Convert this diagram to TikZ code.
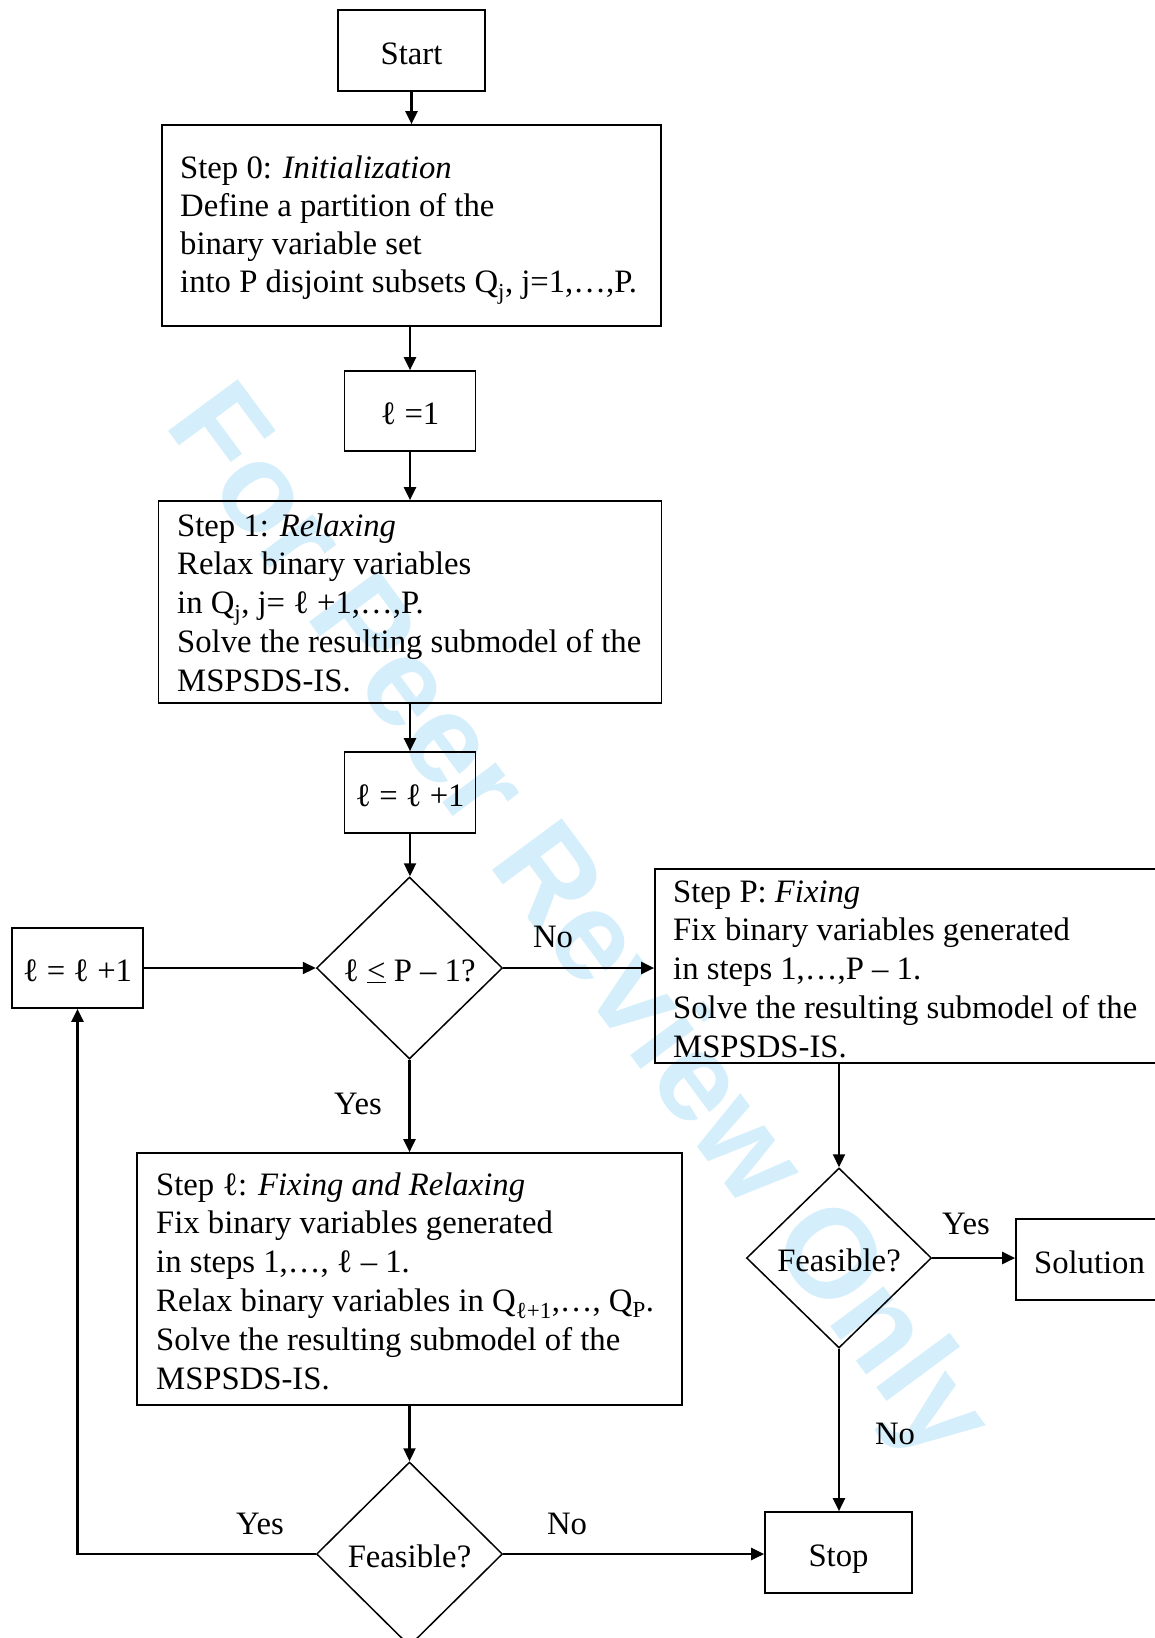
\documentclass[tikz,border=0pt]{standalone}
\usepackage{fontspec}
\setmainfont{Liberation Serif}
\newfontfamily\wmfont{Liberation Sans}
\usetikzlibrary{arrows.meta,shapes.geometric,calc}
\definecolor{wmblue}{RGB}{212,239,251}
\begin{document}
\begin{tikzpicture}[x=1pt,y=-1pt,
  box/.style={draw, line width=1.7pt, rectangle, inner sep=0pt, text height=27pt, text depth=0pt, font=\fontsize{32.7}{38.8}\selectfont},
  dia/.style={draw, line width=1.5pt, diamond, inner sep=0pt, text height=26pt, text depth=0pt, font=\fontsize{32.7}{38.8}\selectfont},
  conn/.style={line width=2.2pt, -{Triangle[length=13pt,width=12pt]}},
  btxt/.style={inner sep=0pt, anchor=base west, font=\fontsize{32.7}{38.8}\selectfont},
  lbl/.style={inner sep=0pt, font=\fontsize{32.7}{38.8}\selectfont},
  wmark/.style={inner sep=0pt, anchor=base west, rotate=-53.5, text=wmblue, font=\wmfont\bfseries\fontsize{126}{126}\selectfont}
]
\clip (0,0) rectangle (1155,1638);
\fill[white] (0,0) rectangle (1155,1638);
% watermark
\node[wmark] (wm) at (163,424) {For Peer Review Only};

% boxes
\node[box, minimum width=147pt, minimum height=81pt] (start) at (411.5,50.5) {Start};
\node[box, minimum width=499pt, minimum height=201pt] (s0) at (411.5,225.5) {};
\node[box, minimum width=131pt, minimum height=80pt] (l1) at (410,411) {ℓ =1};
\node[box, minimum width=503pt, minimum height=202pt] (s1) at (410,602) {};
\node[box, minimum width=131pt, minimum height=81pt] (l2) at (410,792.5) {ℓ = ℓ +1};
\node[dia, minimum width=186pt, minimum height=182pt] (d1) at (409.5,968) {ℓ \underline{<} P – 1?};
\node[box, minimum width=131pt, minimum height=80pt] (l3) at (77.5,968) {ℓ = ℓ +1};
\node[box, minimum width=515pt, minimum height=194pt] (sp) at (912.5,966) {};
\node[box, minimum width=545pt, minimum height=252pt] (sl) at (409.5,1279) {};
\node[dia, minimum width=185pt, minimum height=180pt] (d2) at (839,1258) {Feasible?};
\node[box, minimum width=147pt, minimum height=81pt] (sol) at (1089.5,1259.5) {Solution};
\node[dia, minimum width=186pt, minimum height=184pt] (d3) at (409.5,1554) {Feasible?};
\node[box, minimum width=147pt, minimum height=81pt] (stop) at (838.5,1552.5) {Stop};

% box texts
\node[btxt] (s0t) at (180,178) {\parbox[t]{475pt}{\fontsize{32.7}{38.3}\selectfont\raggedright Step 0: \textit{Initialization}\\
Define a partition of the\\
binary variable set\\
into P disjoint subsets Q\textsubscript{j}, j=1,…,P.}};
\node[btxt] (s1t) at (177,536) {\parbox[t]{478pt}{\raggedright Step 1: \textit{Relaxing}\\
Relax binary variables\\
in Q\textsubscript{j}, j= ℓ +1,…,P.\\
Solve the resulting submodel of the\\
MSPSDS-IS.}};
\node[btxt] (spt) at (673,902) {\parbox[t]{475pt}{\raggedright Step P: \textit{Fixing}\\
Fix binary variables generated\\
in steps 1,…,P – 1.\\
Solve the resulting submodel of the\\
MSPSDS-IS.}};
\node[btxt] (slt) at (156,1195) {\parbox[t]{518pt}{\raggedright Step ℓ: \textit{Fixing and Relaxing}\\
Fix binary variables generated\\
in steps 1,…, ℓ – 1.\\
Relax binary variables in Q\textsubscript{\fontsize{23}{23}\selectfont ℓ+1},…, Q\textsubscript{\fontsize{23}{23}\selectfont P}.\\
Solve the resulting submodel of the\\
MSPSDS-IS.}};

% labels
\node[lbl] (no1) at (553,937) {No};
\node[lbl] (yes1) at (358,1104) {Yes};
\node[lbl] (yes2) at (966,1224) {Yes};
\node[lbl] (no2) at (895,1434) {No};
\node[lbl] (yes3) at (260,1524) {Yes};
\node[lbl] (no3) at (567,1524) {No};

% connectors
\draw[conn] (start.south) -- (start.south |- s0.north);
\draw[conn] (l1.north |- s0.south) -- (l1.north);
\draw[conn] (l1.south) -- (l1.south |- s1.north);
\draw[conn] (s1.south) -- (s1.south |- l2.north);
\draw[conn] (l2.south) -- (l2.south |- d1.north);
\draw[conn] (d1.east) -- (d1.east -| sp.west);
\draw[conn] (d1.south) -- (d1.south |- sl.north);
\draw[conn] (d2.north |- sp.south) -- (d2.north);
\draw[conn] (d2.east) -- (d2.east -| sol.west);
\draw[conn] (d2.south) -- (d2.south |- stop.north);
\draw[conn] (sl.south) -- (sl.south |- d3.north);
\draw[conn] (d3.east) -- (d3.east -| stop.west);
\draw[conn] (d3.west) -| (l3.south);
\draw[conn] (l3.east) -- (d1.west);
\end{tikzpicture}
\end{document}
